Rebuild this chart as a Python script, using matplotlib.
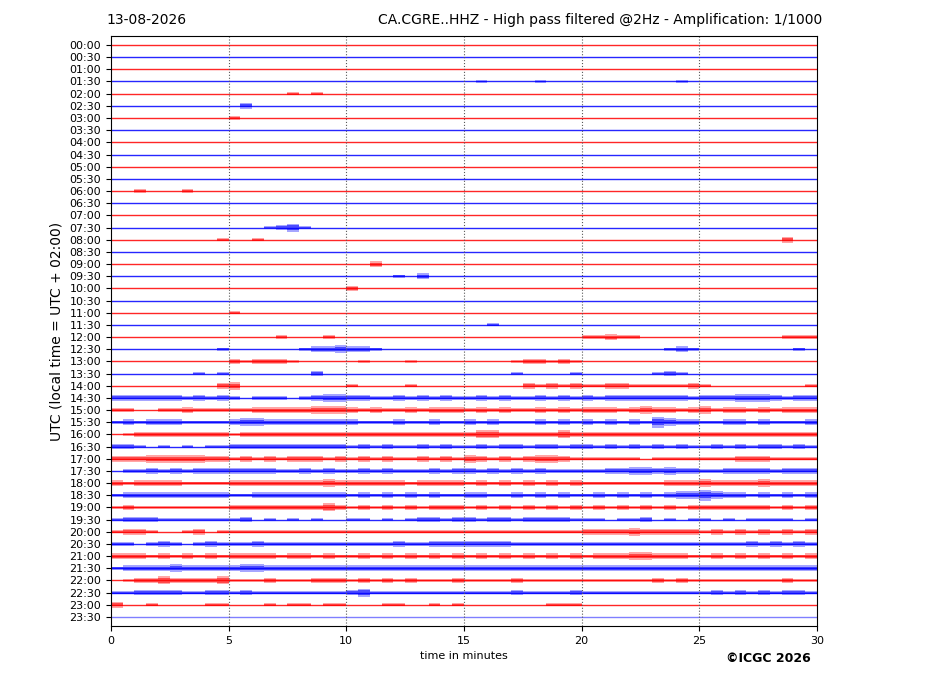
import numpy as np
import matplotlib
matplotlib.use("Agg")
import matplotlib.pyplot as plt

# helicorder of CA.CGRE..HHZ, one row per half hour
date_label = "13-08-2026"
station_title = "CA.CGRE..HHZ - High pass filtered @2Hz - Amplification: 1/1000"
row_labels = ["%02d:%02d" % (h, m) for h in range(24) for m in (0, 30)]
row_colors = ["red", "blue"] * 24

# envelope level per half minute (0 = flat trace, 5 = strongest)
envelope = [
    "0000000000 0000000000 0000000000 0000000000 0000000000 0000000000",  # 00:00
    "0000000000 0000000000 0000000000 0000000000 0000000000 0000000000",  # 00:30
    "0000000000 0000000000 0000000000 0000000000 0000000000 0000000000",  # 01:00
    "0000000000 0000000000 0000000000 0100001000 0000000010 0000000000",  # 01:30
    "0000000000 0000010100 0000000000 0000000000 0000000000 0000000000",  # 02:00
    "0000000000 0200000000 0000000000 0000000000 0000000000 0000000000",  # 02:30
    "0000000000 1000000000 0000000000 0000000000 0000000000 0000000000",  # 03:00
    "0000000000 0000000000 0000000000 0000000000 0000000000 0000000000",  # 03:30
    "0000000000 0000000000 0000000000 0000000000 0000000000 0000000000",  # 04:00
    "0000000000 0000000000 0000000000 0000000000 0000000000 0000000000",  # 04:30
    "0000000000 0000000000 0000000000 0000000000 0000000000 0000000000",  # 05:00
    "0000000000 0000000000 0000000000 0000000000 0000000000 0000000000",  # 05:30
    "0010001000 0000000000 0000000000 0000000000 0000000000 0000000000",  # 06:00
    "0000000000 0000000000 0000000000 0000000000 0000000000 0000000000",  # 06:30
    "0000000000 0000000000 0000000000 0000000000 0000000000 0000000000",  # 07:00
    "0000000000 0001231000 0000000000 0000000000 0000000000 0000000000",  # 07:30
    "0000000001 0010000000 0000000000 0000000000 0000000000 0000000200",  # 08:00
    "0000000000 0000000000 0000000000 0000000000 0000000000 0000000000",  # 08:30
    "0000000000 0000000000 0020000000 0000000000 0000000000 0000000000",  # 09:00
    "0000000000 0000000000 0000102000 0000000000 0000000000 0000000000",  # 09:30
    "0000000000 0000000000 2000000000 0000000000 0000000000 0000000000",  # 10:00
    "0000000000 0000000000 0000000000 0000000000 0000000000 0000000000",  # 10:30
    "0000000000 1000000000 0000000000 0000000000 0000000000 0000000000",  # 11:00
    "0000000000 0000000000 0000000000 0010000000 0000000000 0000000000",  # 11:30
    "0000000000 0000100010 0000000000 0000000000 1121100000 0000000111",  # 12:00
    "0000000001 0000001223 2210000000 0000000000 0000000121 0000000010",  # 12:30
    "0000000000 2122210000 0100010000 0000122121 0000000000 0000000000",  # 13:00
    "0000000101 0000000200 0000000000 0000100001 0000001210 0000000000",  # 13:30
    "0000000002 3000000000 1000010000 0000021212 1122111112 1000000001",  # 14:00
    "2222221212 1011101233 2211212121 1212112121 2122222221 2223332122",  # 14:30
    "1100112111 1122222333 2121121222 1212112121 2221232212 3122121222",  # 15:00
    "1212221111 2332222222 2111211211 2121112121 2121214322 1122121112",  # 15:30
    "0122222222 1222222222 2222222222 2332222232 2222222222 2222222222",  # 16:00
    "2210101011 2222222222 1212112121 1212212212 2121212121 1212122121",  # 16:30
    "2223333322 1212122212 1212112121 3212123321 1111101111 1112221111",  # 17:00
    "0112121222 2222112121 1212111212 2121212111 1122332322 1122221222",  # 17:30
    "2122221111 2222222232 2222212222 1212121212 1111111222 3222232222",  # 18:00
    "1222222222 1122222222 1212121211 2211212121 1212121233 4322121212",  # 18:30
    "1211111111 2222222232 1212121222 1212121212 1212121212 2222221212",  # 19:00
    "1222111111 1201010100 1101012212 2122122221 1101120101 1010111101",  # 19:30
    "1221001201 1111111111 1111111111 1111111111 2222322222 1212121212",  # 20:00
    "1101210121 1121111111 1111211222 2222111111 1111111111 1111212121",  # 20:30
    "2221212121 2222122121 1212121212 1212121212 1222332221 1212121212",  # 21:00
    "1222232222 2332222222 2222222222 2222222222 2222222222 2222222222",  # 21:30
    "0122322223 1112111222 1212121112 1111211111 1111112121 1111111211",  # 22:00
    "1122221122 1211111111 2311111111 1111211112 1111111111 1212121221",  # 22:30
    "2001000011 0001011011 0001100101 0000000111 0000000000 0000000000",  # 23:00
    "0000000000 0000000000 0000000000 0000000000 0000000000 0000000000",  # 23:30
]

amp_px = np.array([0, 1.6, 2.8, 4.0, 5.5, 7.0])  # half height in pixels per level
px_per_row = 12.17
t_edges = np.arange(61) * 0.5

fig = plt.figure(figsize=(9.27, 6.96), dpi=100)
ax = fig.add_axes([0.1197, 0.1006, 0.7616, 0.8477])

for k, row in enumerate(envelope):
    lev = np.array([int(c) for c in row.replace(" ", "")])
    assert len(lev) == 60
    half = amp_px[lev] / px_per_row
    half = np.append(half, half[-1])
    col = row_colors[k]
    # soft outer band and denser core, like the wiggles of the trace
    ax.fill_between(t_edges, k - half, k + half, step="post",
                    color=col, alpha=0.35, lw=0)
    ax.fill_between(t_edges, k - 0.55 * half, k + 0.55 * half, step="post",
                    color=col, alpha=0.55, lw=0)
    a = 0.5 if k == len(envelope) - 1 else 0.85
    ax.plot([0, 30], [k, k], color=col, lw=1.0, alpha=a)

for x in [5, 10, 15, 20, 25]:
    ax.axvline(x, color="0.35", ls=":", lw=0.8)

ax.set_xlim(0, 30)
ax.set_ylim(47.74, -0.74)
ax.set_xticks([0, 5, 10, 15, 20, 25, 30])
ax.set_yticks(range(48))
ax.set_yticklabels(row_labels)
ax.tick_params(labelsize=8)
ax.set_xlabel("time in minutes", fontsize=8)
ax.set_ylabel("UTC (local time = UTC + 02:00)", fontsize=10)

fig.text(0.1144, 0.971, date_label, ha="left", va="center", fontsize=10)
fig.text(0.8867, 0.971, station_title, ha="right", va="center", fontsize=10)
fig.text(0.875, 0.054, "\u00a9ICGC 2026", ha="right", va="center",
         fontsize=9, fontweight="bold")

fig.savefig("out.png", dpi=100)
